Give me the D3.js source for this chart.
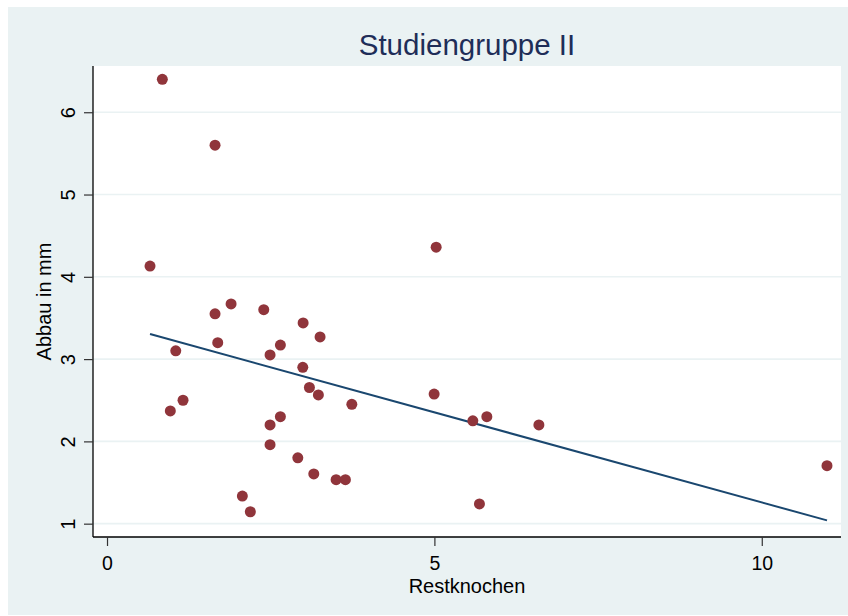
<!DOCTYPE html>
<html>
<head>
    <meta charset="utf-8">
    <title>Studiengruppe II</title>
    <script src="https://cdnjs.cloudflare.com/ajax/libs/d3/7.8.5/d3.min.js"></script>
    <style>
        body { margin: 0; background: white; }
        text { font-family: "Liberation Sans", Arial, sans-serif; }
    </style>
</head>
<body>
    <div id="chart"></div>
    <script>
        // Data
        const restknochen = [0.845, 1.650, 0.657, 5.027, 1.895, 1.650, 2.394, 2.995, 3.254, 1.691,
                             1.050, 2.490, 2.648, 2.990, 3.091, 3.228, 3.739, 4.996, 5.587, 5.801,
                             6.596, 0.967, 1.161, 2.490, 2.648, 2.490, 2.914, 3.158, 3.499, 3.641,
                             5.688, 2.067, 2.189, 10.996];
        const abbau = [6.40, 5.60, 4.13, 4.36, 3.67, 3.55, 3.60, 3.44, 3.27, 3.20,
                       3.10, 3.05, 3.17, 2.90, 2.655, 2.565, 2.45, 2.575, 2.25, 2.30,
                       2.20, 2.37, 2.50, 2.20, 2.30, 1.96, 1.80, 1.605, 1.535, 1.535,
                       1.24, 1.335, 1.145, 1.705];
        // fitted line end points
        const fitX = [0.657, 10.996];
        const fitY = [3.304, 1.040];
        const xTicks = [0, 5, 10];
        const yTicks = [1, 2, 3, 4, 5, 6];

        const width = 848, height = 616;
        const plot = { left: 93, right: 841, top: 66, bottom: 537 };

        const svg = d3.select("#chart").append("svg")
            .attr("width", width)
            .attr("height", height);

        // outer background
        svg.append("rect")
            .attr("x", 8).attr("y", 7)
            .attr("width", width - 8).attr("height", height - 8)
            .attr("fill", "#eaf2f3");

        svg.append("rect")
            .attr("x", plot.left).attr("y", plot.top)
            .attr("width", plot.right - plot.left).attr("height", plot.bottom - plot.top)
            .attr("fill", "white");

        const x = d3.scaleLinear().domain([-0.214, 11.21]).range([plot.left, plot.right]);
        const y = d3.scaleLinear().domain([0.838, 6.562]).range([plot.bottom, plot.top]);

        // grid lines
        svg.append("g")
            .selectAll("line")
            .data(yTicks)
            .enter()
            .append("line")
            .attr("x1", plot.left).attr("x2", plot.right)
            .attr("y1", d => y(d)).attr("y2", d => y(d))
            .attr("stroke", "#eaf2f3")
            .attr("stroke-width", 1.6);

        // fit line
        const points = restknochen.map((d, i) => ({ x: d, y: abbau[i] }));
        const fit = fitX.map((d, i) => ({ x: d, y: fitY[i] }));

        svg.append("path")
            .datum(fit)
            .attr("fill", "none")
            .attr("stroke", "#1a476f")
            .attr("stroke-width", 2)
            .attr("d", d3.line().x(d => x(d.x)).y(d => y(d.y)));

        svg.append("g")
            .selectAll("circle")
            .data(points)
            .enter()
            .append("circle")
            .attr("cx", d => x(d.x))
            .attr("cy", d => y(d.y))
            .attr("r", 5.5)
            .attr("fill", "#90353b");

        // axes
        const xAxis = svg.append("g")
            .attr("transform", `translate(0,${plot.bottom})`)
            .call(d3.axisBottom(x).tickValues(xTicks).tickFormat(d3.format("d")).tickSize(9).tickSizeOuter(0));
        xAxis.select(".domain").attr("d", `M${plot.left},0H${plot.right}`).attr("stroke-width", 1.3);
        xAxis.selectAll(".tick line").attr("stroke", "#333").attr("stroke-width", 1.2);
        xAxis.selectAll(".tick text")
            .attr("y", 33).attr("dy", null)
            .attr("font-size", "19.5px")
            .attr("font-family", "Liberation Sans, Arial, sans-serif")
            .attr("fill", "black");

        const yAxis = svg.append("g")
            .attr("transform", `translate(${plot.left},0)`)
            .call(d3.axisLeft(y).tickValues(yTicks).tickFormat(d3.format("d")).tickSize(9).tickSizeOuter(0));
        yAxis.select(".domain").attr("d", `M0,${plot.top}V${plot.bottom}`).attr("stroke-width", 1.3);
        yAxis.selectAll(".tick line").attr("stroke", "#333").attr("stroke-width", 1.2);
        yAxis.selectAll(".tick text")
            .attr("x", 0).attr("y", -18).attr("dy", null)
            .attr("text-anchor", "middle")
            .attr("transform", "rotate(-90)")
            .attr("font-size", "20px")
            .attr("font-family", "Liberation Sans, Arial, sans-serif")
            .attr("fill", "black");

        // titles
        const cx = (plot.left + plot.right) / 2;
        svg.append("text")
            .attr("x", cx).attr("y", 55)
            .attr("text-anchor", "middle")
            .attr("font-size", "29.5px")
            .attr("fill", "#1e2d58")
            .text("Studiengruppe II");

        svg.append("text")
            .attr("x", cx).attr("y", 592.5)
            .attr("text-anchor", "middle")
            .attr("font-size", "20px")
            .attr("fill", "black")
            .text("Restknochen");

        svg.append("text")
            .attr("transform", `translate(51,${(plot.top + plot.bottom) / 2}) rotate(-90)`)
            .attr("text-anchor", "middle")
            .attr("font-size", "20px")
            .attr("fill", "black")
            .text("Abbau in mm");
    </script>
</body>
</html>
